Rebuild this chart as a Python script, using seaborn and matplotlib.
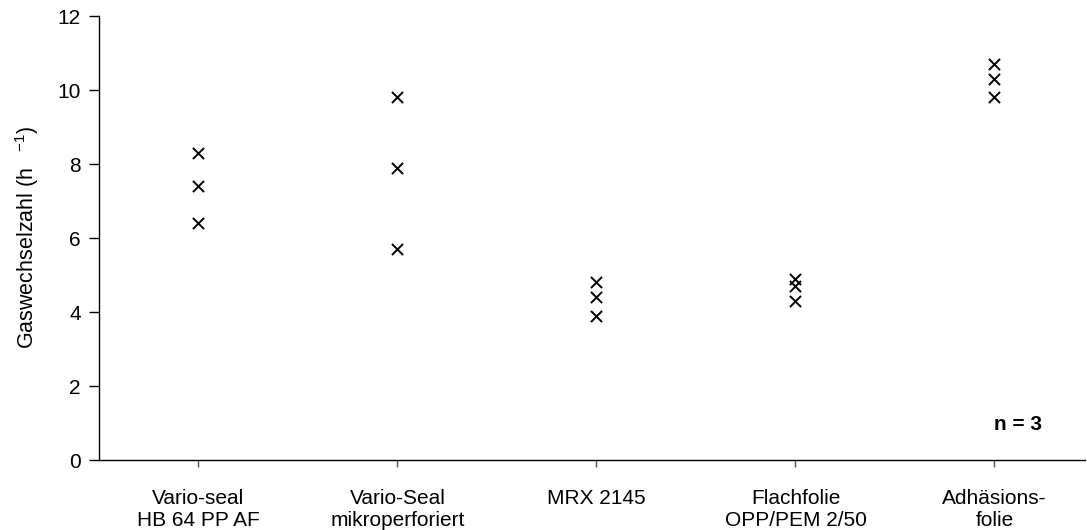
import matplotlib
matplotlib.use("Agg")
import matplotlib.pyplot as plt
import seaborn as sns
import pandas as pd

categories = ["Vario-seal\nHB 64 PP AF", "Vario-Seal\nmikroperforiert", "MRX 2145",
              "Flachfolie\nOPP/PEM 2/50", "Adhäsions-\nfolie"]
rep1 = [8.3, 9.8, 4.8, 4.9, 10.7]
rep2 = [7.4, 7.9, 4.4, 4.7, 10.3]
rep3 = [6.4, 5.7, 3.9, 4.3, 9.8]
y_ticks = [0, 2, 4, 6, 8, 10, 12]

df = pd.DataFrame({
    "Folie": categories * 3,
    "Wert": rep1 + rep2 + rep3,
})

sns.set_theme(style="ticks")
plt.rcParams['font.family'] = ['Liberation Sans', 'DejaVu Sans']
plt.rcParams['text.color'] = 'black'
plt.rcParams['axes.labelcolor'] = 'black'
plt.rcParams['mathtext.fontset'] = 'custom'
plt.rcParams['mathtext.rm'] = 'Liberation Sans'

fig = plt.figure(figsize=(10.87, 5.30), dpi=100)
ax = fig.add_axes([99/1087, 70/530, (1085-99)/1087, 444/530])

sns.stripplot(data=df, x="Folie", y="Wert", order=categories, jitter=False,
              marker="x", color="black", size=8, linewidth=1.4, ax=ax)

fs = 15
ax.set_xlim(-0.5, 4.455)
ax.set_ylim(0, 12)
ax.set_yticks(y_ticks)
ax.set_xlabel("")
ax.set_ylabel(r"Gaswechselzahl (h $\,$ $^{\mathrm{-1}}$)", fontsize=15.5, labelpad=12, color="black")
ax.tick_params(axis="both", labelsize=fs, labelcolor="black", direction="out", length=5, width=1)
ax.tick_params(axis="x", length=5, color="#555555", pad=16)
ax.tick_params(axis="y", length=7, color="black", pad=6)
for lab in ax.get_xticklabels():
    lab.set_linespacing(1.2)
sns.despine(ax=ax)
for s in ["left", "bottom"]:
    ax.spines[s].set_color("black")
    ax.spines[s].set_linewidth(1)

ax.text(4, 0.95, "n = 3", ha="left", va="center", fontsize=fs, fontweight="bold", color="black")

fig.savefig("out.png", dpi=100)
